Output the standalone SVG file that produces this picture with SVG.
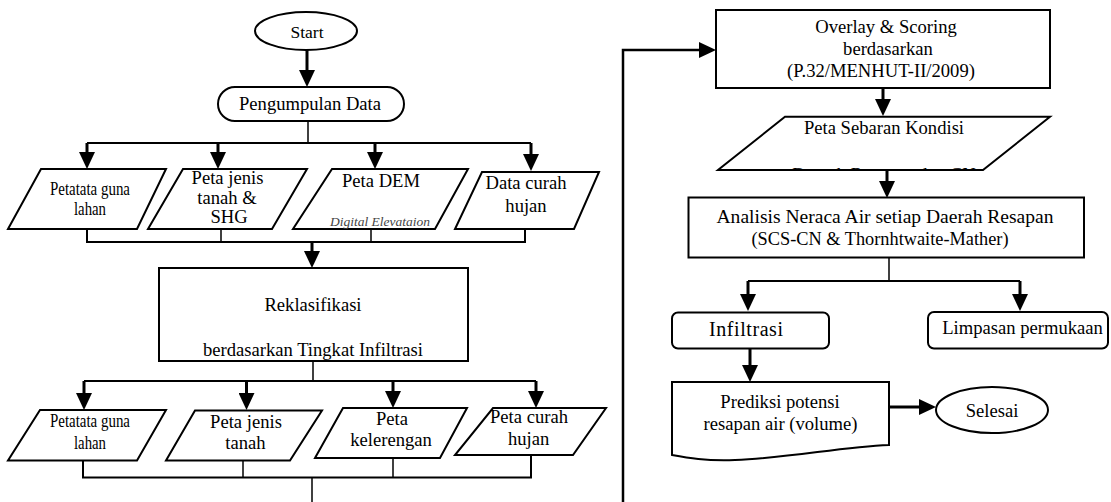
<svg xmlns="http://www.w3.org/2000/svg" width="1111" height="502" viewBox="0 0 1111 502">
<style>
.sh{fill:#fff;stroke:#000;stroke-width:2}
.t{font-family:"Liberation Serif","Times New Roman",serif;font-size:18.6px;fill:#000;text-anchor:middle}
.c{font-family:"Liberation Serif","Times New Roman",serif;font-size:19px;fill:#000;text-anchor:middle}
.it{font-family:"Liberation Serif",serif;font-style:italic;font-size:13.5px;fill:#444;text-anchor:middle}
.ar{fill:none;stroke:#000;stroke-width:3;marker-end:url(#ah)}
.ln{fill:none;stroke:#000;stroke-width:2}
.tn{fill:none;stroke:#000;stroke-width:1.5}
</style>
<defs>
<marker id="ah" markerUnits="userSpaceOnUse" viewBox="0 0 17 16" markerWidth="17" markerHeight="16" refX="2" refY="8" orient="auto"><path d="M0,0 L17,8 L0,16 Z" fill="#000"/></marker>
<clipPath id="clipPS"><rect x="700" y="110" width="380" height="60"/></clipPath>
</defs>
<rect width="1111" height="502" fill="#fff"/>
<g id="connectors">
<path class="ar" d="M307,50 V72"/>
<path class="tn" d="M308,121 V143"/>
<path class="ln" d="M87,143 H531"/>
<path class="ar" d="M87,143 V154"/>
<path class="ar" d="M218,143 V154"/>
<path class="ar" d="M375,143 V154"/>
<path class="ar" d="M531,143 V156"/>
<path class="ln" d="M87,229 V242 H525 V229"/>
<path class="tn" d="M221,229 V242"/>
<path class="tn" d="M371,229 V242"/>
<path class="ar" d="M312,242 V253"/>
<path class="tn" d="M313,361 V381"/>
<path class="ln" d="M84,381 H536"/>
<path class="ar" d="M84,381 V395"/>
<path class="ar" d="M246.5,381 V395"/>
<path class="ar" d="M393,381 V393"/>
<path class="ar" d="M536,381 V393"/>
<path class="ln" d="M83,460.5 V477.5 H531 V455"/>
<path class="tn" d="M243,460.5 V477.5"/>
<path class="tn" d="M393,458 V477.5"/>
<path class="tn" d="M312,477.5 V502"/>
<path class="ar" d="M623,502 V50 H701" style="stroke-width:2.5"/>
<path class="ar" d="M883,88 V101"/>
<path class="ar" d="M887,170 V183"/>
<path class="tn" d="M889,257 V281"/>
<path class="ln" d="M748,281 H1020"/>
<path class="ar" d="M748,281 V296"/>
<path class="ar" d="M1020,281 V296"/>
<path class="ar" d="M750,348 V367"/>
<path class="ar" d="M889,407 H921"/>
</g>
<g id="start">
<ellipse class="sh" cx="306" cy="31" rx="51" ry="19"/>
<text class="t" x="307" y="37.5" style="font-size:17.5px">Start</text>
</g>
<g id="pengumpulan">
<rect class="sh" x="218" y="87" width="186" height="34" rx="17"/>
<text class="t" x="310" y="109.5">Pengumpulan Data</text>
</g>
<g id="in1">
<polygon class="sh" points="41,169 166,169 137,229 8,229"/>
<text class="t" x="90" y="195" textLength="80" lengthAdjust="spacingAndGlyphs">Petatata guna</text>
<text class="t" x="90" y="215" textLength="32" lengthAdjust="spacingAndGlyphs">lahan</text>
</g>
<g id="in2">
<polygon class="sh" points="183,169 307,169 272,229 148,229"/>
<text class="t" x="227.5" y="184">Peta jenis</text>
<text class="t" x="227" y="204">tanah &amp;</text>
<text class="t" x="229" y="223">SHG</text>
</g>
<g id="in3">
<polygon class="sh" points="332,169 468,169 435,229 293,229"/>
<text class="t" x="381" y="187">Peta DEM</text>
<text class="it" x="380" y="226">Digital Elevataion</text>
</g>
<g id="in4">
<polygon class="sh" points="482,172 599,172 574,229 455,229"/>
<text class="t" x="526" y="189">Data curah</text>
<text class="t" x="526" y="212">hujan</text>
</g>
<g id="reklasifikasi">
<rect class="sh" x="159" y="268" width="309" height="93"/>
<text class="t" x="313" y="311">Reklasifikasi</text>
<text class="t" x="313" y="356">berdasarkan Tingkat Infiltrasi</text>
</g>
<g id="out1">
<polygon class="sh" points="40,410 166,410 137,460.5 8,460.5"/>
<text class="t" x="90" y="427" textLength="80" lengthAdjust="spacingAndGlyphs">Petatata guna</text>
<text class="t" x="90" y="449" textLength="32" lengthAdjust="spacingAndGlyphs">lahan</text>
</g>
<g id="out2">
<polygon class="sh" points="195,410.5 322,410.5 290,460.5 166,460.5"/>
<text class="t" x="246" y="428">Peta jenis</text>
<text class="t" x="245.5" y="449">tanah</text>
</g>
<g id="out3">
<polygon class="sh" points="343,408 467,408 440,458 315,458"/>
<text class="t" x="392" y="425">Peta</text>
<text class="t" x="391" y="446">kelerengan</text>
</g>
<g id="out4">
<polygon class="sh" points="493,408 606,408 573,455 455,455"/>
<text class="t" x="529" y="423">Peta curah</text>
<text class="t" x="528.6" y="445">hujan</text>
</g>
<g id="overlay">
<rect class="sh" x="716" y="10" width="334" height="78"/>
<text class="t" x="886" y="33">Overlay &amp; Scoring</text>
<text class="t" x="888" y="55">berdasarkan</text>
<text class="t" x="881" y="76.7">(P.32/MENHUT-II/2009)</text>
</g>
<g id="peta-sebaran">
<polygon class="sh" points="785,116.7 1050,116.7 983,170 718,170"/>
<text class="t" x="884" y="134">Peta Sebaran Kondisi</text>
<text class="t" x="884" y="181" clip-path="url(#clipPS)">Daerah Resapan dan CN</text>
</g>
<g id="analisis">
<rect class="sh" x="688.5" y="197.5" width="395.5" height="60"/>
<text class="c" x="885" y="223" textLength="337" lengthAdjust="spacingAndGlyphs">Analisis Neraca Air setiap Daerah Resapan</text>
<text class="c" x="880" y="245" textLength="257" lengthAdjust="spacingAndGlyphs">(SCS-CN &amp; Thornhtwaite-Mather)</text>
</g>
<g id="infiltrasi">
<rect class="sh" x="672" y="312.5" width="157" height="36" rx="6"/>
<text class="c" x="746" y="336" style="font-size:20px" textLength="74" lengthAdjust="spacing">Infiltrasi</text>
</g>
<g id="limpasan">
<rect class="sh" x="928" y="312" width="180" height="36.5" rx="6"/>
<text class="t" x="1022.5" y="334">Limpasan permukaan</text>
</g>
<g id="prediksi">
<path class="sh" d="M672,382 H889 V445 C840,447 790,458 735,460 C705,461 688,458 672,455 Z"/>
<text class="t" x="780" y="407.7">Prediksi potensi</text>
<text class="t" x="780.5" y="430">resapan air (volume)</text>
</g>
<g id="selesai">
<ellipse class="sh" cx="992" cy="410" rx="56" ry="23"/>
<text class="t" x="992" y="417">Selesai</text>
</g>
</svg>
